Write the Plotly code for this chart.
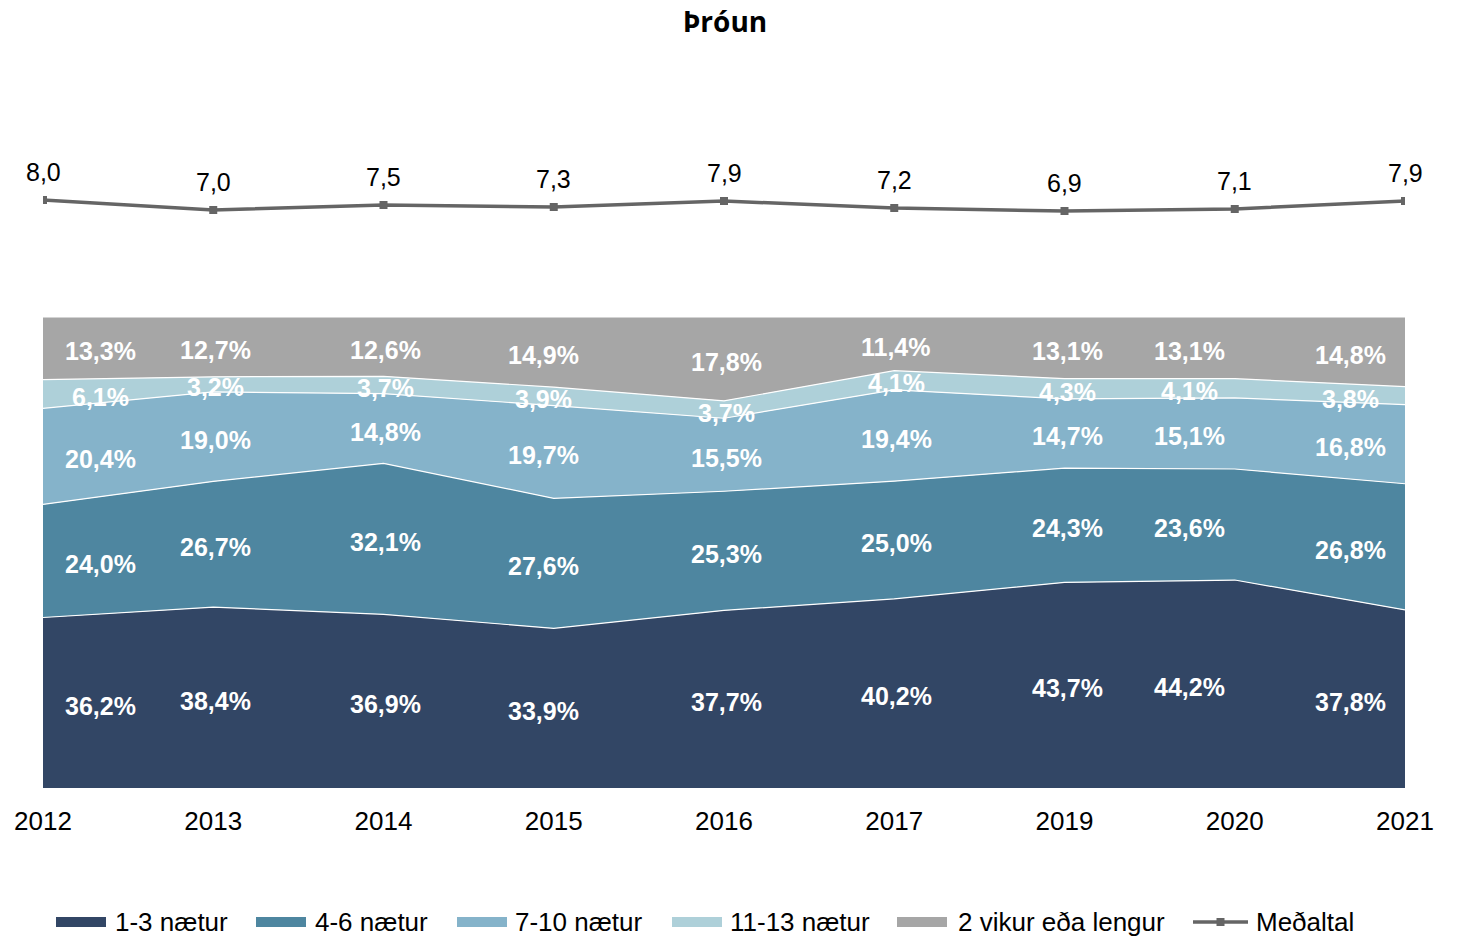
import plotly.graph_objects as go

# Ár og dreifing gistinátta (%)
years = ["2012", "2013", "2014", "2015", "2016", "2017", "2019", "2020", "2021"]
n_1_3 = [36.2, 38.4, 36.9, 33.9, 37.7, 40.2, 43.7, 44.2, 37.8]
n_4_6 = [24.0, 26.7, 32.1, 27.6, 25.3, 25.0, 24.3, 23.6, 26.8]
n_7_10 = [20.4, 19.0, 14.8, 19.7, 15.5, 19.4, 14.7, 15.1, 16.8]
n_11_13 = [6.1, 3.2, 3.7, 3.9, 3.7, 4.1, 4.3, 4.1, 3.8]
n_2vikur = [13.3, 12.7, 12.6, 14.9, 17.8, 11.4, 13.1, 13.1, 14.8]
medaltal = [8.0, 7.0, 7.5, 7.3, 7.9, 7.2, 6.9, 7.1, 7.9]

series = [
    ("1-3 nætur", n_1_3, "#324665"),
    ("4-6 nætur", n_4_6, "#4e86a0"),
    ("7-10 nætur", n_7_10, "#85b3ca"),
    ("11-13 nætur", n_11_13, "#aed0d9"),
    ("2 vikur eða lengur", n_2vikur, "#a6a6a6"),
]
LINE_COLOR = "#656565"

# horizontal nudge of the percentage labels per year (px)
label_xshift = [57, 2, 2, -10, 2, 2, 3, -45, -55]

FONT = "Liberation Sans, Arial, sans-serif"
W, H = 1460, 936
L, R, T, B = 43, 55, 140, 148
PW, PH = W - L - R, H - T - B
xs = list(range(len(years)))


def fmt(v, pct=True):
    s = f"{v:.1f}".replace(".", ",")
    return s + "%" if pct else s


def px(x):
    return (x - L) / PW


def py(y):
    return (H - B - y) / PH


fig = go.Figure()
for name, vals, color in series:
    fig.add_trace(go.Scatter(
        x=xs, y=vals, name=name, mode="lines",
        stackgroup="a", groupnorm="percent",
        line=dict(color="white", width=1.2),
        fillcolor=color,
        hoverinfo="skip",
    ))

fig.add_trace(go.Scatter(
    x=xs, y=medaltal, name="Meðaltal", mode="lines+markers",
    yaxis="y2",
    line=dict(color=LINE_COLOR, width=3.5),
    marker=dict(symbol="square", size=8, color=LINE_COLOR),
))

annotations = []
# percentage labels at the middle of each band
for i in range(len(years)):
    totals = sum(s[1][i] for s in series)
    base = 0.0
    for name, vals, color in series:
        v = vals[i]
        share = v / totals * 100
        mid = base + share / 2
        base += share
        annotations.append(dict(
            x=xs[i], y=mid, xref="x", yref="y", text=fmt(v),
            showarrow=False, xshift=label_xshift[i], yshift=-3,
            font=dict(family=FONT, size=25, color="white", weight="bold"),
        ))

# average labels above the line
for i, v in enumerate(medaltal):
    annotations.append(dict(
        x=xs[i], y=v, xref="x", yref="y2", text=fmt(v, pct=False),
        showarrow=False, yshift=28,
        font=dict(family=FONT, size=25, color="black"),
    ))

# legend row along the bottom
shapes = []
legend_items = [(s[0], s[2], 56 + k * 0) for k, s in enumerate(series)]
swatch_x = [56, 256, 457, 672, 897]
text_x = [113, 313, 513, 728, 956]
LEG_Y = 922
for (name, vals, color), sx, tx in zip(series, swatch_x, text_x):
    shapes.append(dict(
        type="rect", xref="paper", yref="paper",
        x0=px(sx), x1=px(sx + 50), y0=py(LEG_Y + 5), y1=py(LEG_Y - 5),
        fillcolor=color, line=dict(width=0),
    ))
    annotations.append(dict(
        x=px(tx), y=py(LEG_Y), xref="paper", yref="paper", text=name,
        xanchor="left", yanchor="middle", showarrow=False,
        font=dict(family=FONT, size=26, color="black"),
    ))
shapes.append(dict(
    type="line", xref="paper", yref="paper",
    x0=px(1193), x1=px(1248), y0=py(LEG_Y), y1=py(LEG_Y),
    line=dict(color=LINE_COLOR, width=3.5),
))
shapes.append(dict(
    type="rect", xref="paper", yref="paper",
    x0=px(1216.5), x1=px(1224.5), y0=py(LEG_Y + 4), y1=py(LEG_Y - 4),
    fillcolor=LINE_COLOR, line=dict(width=0),
))
annotations.append(dict(
    x=px(1254), y=py(LEG_Y), xref="paper", yref="paper", text="Meðaltal",
    xanchor="left", yanchor="middle", showarrow=False,
    font=dict(family=FONT, size=26, color="black"),
))

fig.update_layout(
    width=W, height=H,
    margin=dict(l=L, r=R, t=T, b=B, autoexpand=False),
    paper_bgcolor="white", plot_bgcolor="white",
    title=dict(
        text="<b>Þróun</b>", x=px(725), xref="paper", xanchor="center",
        y=1 - 22 / H, yanchor="middle",
        font=dict(family="Open Sans, sans-serif", size=28, color="black"),
    ),
    xaxis=dict(
        range=[0, len(years) - 1], tickmode="array", tickvals=xs, ticktext=years,
        showgrid=False, zeroline=False, showline=False, ticks="",
        ticklabelstandoff=15,
        tickfont=dict(family=FONT, size=26, color="black"),
    ),
    yaxis=dict(
        domain=[0, 471 / PH], range=[0, 100], visible=False, fixedrange=True,
    ),
    yaxis2=dict(
        domain=[(H - B - 250) / PH, (H - B - 150) / PH], range=[3, 13],
        anchor="x", visible=False,
    ),
    showlegend=False,
    annotations=annotations,
    shapes=shapes,
)

fig.write_html("out.html")
